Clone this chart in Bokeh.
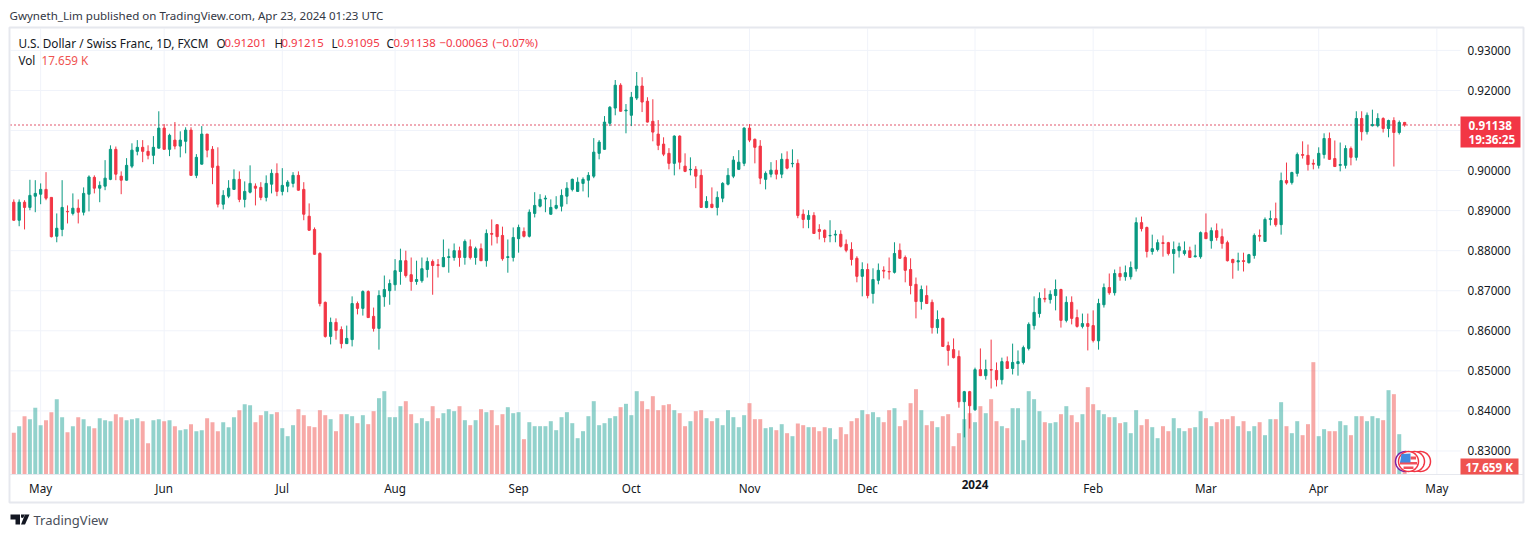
import math
from bokeh.plotting import figure
from bokeh.models import (Range1d, LinearAxis, FixedTicker, Label, PolyAnnotation,
                          ColumnDataSource, NumeralTickFormatter)
from bokeh.embed import file_html
from bokeh.resources import INLINE

# ---------- data ----------
open_ = [
.8921,.8876,.8921,.8908,.8936,.8941,.8953,.8933,.8836,.8853,
.8898,.8893,.8906,.8896,.8941,.8983,.8956,.8961,.8978,.9053,
.8986,.8976,.9011,.9048,.9058,.9048,.9038,.9056,.9106,.9053,
.9076,.9061,.9073,.9101,.8988,.9016,.9091,.9053,.9011,.8916,
.8936,.8953,.8978,.8928,.8946,.8961,.8958,.8933,.8966,.8993,
.8948,.8961,.8968,.8988,.8953,.8886,.8853,.8793,.8671,.8586,
.8621,.8603,.8568,.8578,.8668,.8656,.8698,.8636,.8606,.8685,
.8700,.8715,.8748,.8775,.8740,.8723,.8725,.8753,.8773,.8765,
.8760,.8783,.8783,.8800,.8783,.8810,.8783,.8805,.8775,.8843,
.8865,.8838,.8783,.8783,.8830,.8848,.8836,.8893,.8911,.8929,
.8891,.8906,.8911,.8936,.8953,.8948,.8968,.8976,.8986,.9043,
.9053,.9118,.9156,.9213,.9149,.9138,.9181,.9211,.9173,.9123,
.9091,.9066,.9043,.9018,.9086,.9011,.9002,.9003,.8988,.8908,
.8916,.8908,.8931,.8966,.8986,.9003,.9018,.9106,.9078,.9061,
.8978,.8991,.9001,.8991,.9028,.9017,.9018,.8891,.8878,.8888,
.8853,.8851,.8837,.8839,.8841,.8816,.8803,.8781,.8736,.8753,
.8693,.8726,.8751,.8748,.8746,.8801,.8783,.8753,.8716,.8673,
.8688,.8671,.8608,.8631,.8563,.8553,.8536,.8423,.8448,.8403,
.8503,.8488,.8503,.8501,.8478,.8523,.8506,.8518,.8521,.8556,
.8613,.8643,.8681,.8678,.8688,.8703,.8626,.8671,.8633,.8611,
.8618,.8613,.8575,.8665,.8708,.8695,.8743,.8735,.8735,.8755,
.8870,.8858,.8798,.8803,.8820,.8820,.8793,.8800,.8793,.8800,
.8785,.8785,.8845,.8825,.8850,.8835,.8820,.8778,.8772,.8775,
.8770,.8788,.8838,.8823,.8878,.8880,.8865,.8975,.8970,.8993,
.9040,.9038,.9018,.9013,.9040,.9080,.9030,.9013,.9013,.9055,
.9033,.9130,.9097,.9112,.9112,.9130,.9105,.9125,.9095,.91201]
high = [
.8928,.8928,.8926,.8977,.8976,.8968,.8996,.8933,.8893,.8976,
.8913,.8943,.8928,.8958,.8988,.8988,.8973,.9026,.9063,.9060,
.8998,.9031,.9068,.9076,.9076,.9063,.9086,.9148,.9116,.9092,
.9121,.9098,.9108,.9108,.9041,.9111,.9091,.9061,.9058,.8951,
.8976,.9003,.8998,.8973,.9013,.8968,.8971,.8988,.9003,.9018,
.9006,.8976,.8996,.8998,.8971,.8918,.8858,.8796,.8673,.8633,
.8631,.8611,.8613,.8686,.8673,.8701,.8701,.8658,.8701,.8738,
.8728,.8779,.8805,.8800,.8783,.8775,.8783,.8783,.8778,.8779,
.8828,.8805,.8818,.8810,.8828,.8828,.8810,.8818,.8853,.8878,
.8865,.8860,.8828,.8858,.8865,.8858,.8903,.8946,.8941,.8938,
.8928,.8936,.8953,.8971,.8980,.8983,.8983,.8996,.9081,.9076,
.9136,.9161,.9226,.9218,.9166,.9196,.9246,.9233,.9183,.9178,
.9126,.9083,.9056,.9088,.9088,.9043,.9033,.9011,.9003,.8936,
.8958,.8948,.8971,.9006,.9036,.9051,.9108,.9116,.9080,.9076,
.8998,.9021,.9026,.9043,.9048,.9053,.9028,.8903,.8901,.8896,
.8866,.8853,.8876,.8851,.8851,.8828,.8821,.8786,.8771,.8768,
.8756,.8768,.8761,.8783,.8821,.8818,.8788,.8781,.8733,.8713,
.8713,.8678,.8651,.8633,.8573,.8581,.8551,.8450,.8450,.8508,
.8556,.8528,.8578,.8521,.8533,.8536,.8568,.8551,.8563,.8621,
.8686,.8696,.8706,.8701,.8728,.8705,.8686,.8686,.8653,.8643,
.8643,.8651,.8680,.8718,.8743,.8753,.8760,.8763,.8773,.8883,
.8885,.8860,.8840,.8828,.8838,.8822,.8823,.8820,.8823,.8810,
.8815,.8848,.8893,.8858,.8868,.8855,.8825,.8780,.8795,.8795,
.8792,.8843,.8853,.8883,.8900,.8920,.8995,.9020,.8997,.9045,
.9073,.9065,.9028,.9058,.9093,.9095,.9075,.9070,.9063,.9060,
.9148,.9148,.9145,.9152,.9143,.9133,.9127,.9133,.9125,.91215]
low = [
.8875,.8861,.8853,.8901,.8896,.8916,.8926,.8833,.8821,.8836,
.8868,.8888,.8868,.8888,.8898,.8943,.8921,.8951,.8976,.8976,
.8941,.8975,.9006,.9038,.9021,.9028,.9016,.9055,.9052,.9036,
.9053,.9033,.9043,.8987,.8981,.9015,.9033,.8966,.8908,.8903,
.8931,.8952,.8921,.8908,.8943,.8913,.8926,.8923,.8943,.8936,
.8938,.8946,.8958,.8950,.8876,.8850,.8790,.8661,.8583,.8566,
.8578,.8556,.8567,.8561,.8641,.8638,.8632,.8598,.8553,.8660,
.8665,.8700,.8715,.8733,.8700,.8715,.8720,.8733,.8690,.8733,
.8759,.8745,.8775,.8760,.8765,.8778,.8765,.8774,.8760,.8813,
.8818,.8775,.8745,.8773,.8795,.8833,.8833,.8883,.8908,.8896,
.8890,.8903,.8898,.8916,.8948,.8947,.8948,.8933,.8981,.9028,
.9052,.9111,.9138,.9147,.9093,.9111,.9176,.9146,.9120,.9073,
.9051,.9036,.9003,.8988,.9003,.8996,.8988,.8956,.8907,.8906,
.8906,.8888,.8921,.8963,.8981,.9002,.9011,.9071,.9018,.8966,
.8953,.8983,.8978,.8981,.9003,.9008,.8881,.8856,.8856,.8842,
.8828,.8821,.8821,.8821,.8808,.8796,.8763,.8721,.8686,.8681,
.8668,.8716,.8731,.8728,.8743,.8780,.8721,.8691,.8631,.8653,
.8667,.8593,.8593,.8560,.8513,.8531,.8408,.8334,.8356,.8400,
.8487,.8478,.8456,.8461,.8466,.8505,.8491,.8488,.8516,.8551,
.8603,.8633,.8671,.8668,.8651,.8608,.8621,.8616,.8608,.8606,
.8551,.8571,.8553,.8658,.8690,.8688,.8725,.8725,.8728,.8748,
.8848,.8783,.8790,.8798,.8785,.8788,.8743,.8783,.8788,.8782,
.8783,.8780,.8829,.8805,.8825,.8805,.8773,.8730,.8750,.8748,
.8768,.8780,.8823,.8822,.8863,.8860,.8840,.8965,.8965,.8985,
.9030,.9000,.9003,.9005,.9030,.9027,.9009,.8998,.9005,.9013,
.9025,.9075,.9090,.9110,.9108,.9095,.9083,.9010,.9090,.91095]
close = [
.8876,.8921,.8908,.8938,.8943,.8953,.8931,.8835,.8856,.8908,
.8897,.8906,.8896,.8943,.8984,.8956,.8963,.8981,.9053,.8991,
.8976,.9013,.9051,.9058,.9048,.9038,.9058,.9106,.9053,.9088,
.9061,.9076,.9101,.8988,.9033,.9091,.9051,.9008,.8916,.8938,
.8956,.8978,.8928,.8948,.8968,.8956,.8933,.8968,.8993,.8948,
.8963,.8971,.8988,.8951,.8891,.8851,.8791,.8668,.8586,.8621,
.8601,.8568,.8581,.8668,.8656,.8698,.8633,.8606,.8688,.8703,
.8718,.8750,.8775,.8738,.8723,.8728,.8755,.8773,.8763,.8763,
.8783,.8785,.8800,.8783,.8823,.8783,.8805,.8775,.8843,.8841,
.8835,.8780,.8785,.8833,.8858,.8836,.8896,.8913,.8928,.8931,
.8908,.8913,.8938,.8956,.8978,.8971,.8978,.8988,.9046,.9071,
.9121,.9158,.9213,.9148,.9151,.9183,.9211,.9171,.9121,.9096,
.9063,.9041,.9018,.9086,.9021,.8998,.9003,.8986,.8908,.8923,
.8908,.8933,.8968,.8988,.9026,.9021,.9106,.9076,.9058,.8981,
.8993,.9001,.8991,.9028,.9006,.9018,.8888,.8878,.8888,.8843,
.8848,.8833,.8838,.8841,.8811,.8801,.8778,.8736,.8753,.8688,
.8728,.8751,.8749,.8747,.8793,.8781,.8751,.8713,.8673,.8703,
.8668,.8608,.8628,.8561,.8551,.8533,.8423,.8448,.8413,.8503,
.8488,.8503,.8502,.8478,.8523,.8506,.8521,.8523,.8558,.8616,
.8646,.8681,.8679,.8691,.8703,.8626,.8671,.8631,.8611,.8618,
.8611,.8576,.8668,.8708,.8695,.8743,.8735,.8745,.8758,.8870,
.8855,.8798,.8805,.8820,.8818,.8793,.8803,.8810,.8800,.8783,
.8787,.8845,.8830,.8850,.8833,.8818,.8775,.8770,.8775,.8773,
.8790,.8838,.8836,.8878,.8880,.8865,.8975,.8969,.8995,.9040,
.9038,.9015,.9016,.9043,.9080,.9028,.9010,.9015,.9055,.9033,
.9130,.9097,.9138,.9115,.9130,.9105,.9125,.9095,.9120,.91138]
volume_k = [
91.7,106.3,128.3,121.7,146.7,108.5,119.5,137.1,165.7,126.1,
93.1,106.3,126.1,121.7,106.3,101.9,123.9,119.5,117.3,132.7,
126.1,119.5,121.7,123.9,117.3,68.9,119.5,121.7,117.3,119.5,
106.3,97.5,99.7,110.7,95.3,97.5,123.9,115.1,95.3,115.1,
104.1,126.1,141.5,154.7,152.5,115.1,130.5,139.3,132.7,137.1,
101.9,84.3,108.5,143.7,130.5,106.3,104.1,141.5,130.5,121.7,
95.3,132.7,132.7,128.3,112.9,130.5,110.7,139.3,167.9,183.3,
126.1,126.1,150.3,161.3,132.7,112.9,123.9,117.3,150.3,123.9,
134.9,143.7,139.3,150.3,119.5,108.5,119.5,143.7,137.1,141.5,
108.5,132.7,148.1,134.9,137.1,77.7,115.1,106.3,106.3,106.3,
117.3,97.5,126.1,137.1,112.9,79.9,95.3,128.3,161.3,108.5,
112.9,123.9,128.3,148.1,155.5,130.5,183.3,161.3,143.7,172.3,
141.5,152.5,154.7,141.5,134.9,106.3,117.3,139.3,141.5,123.9,
117.3,123.9,108.5,141.5,126.1,104.1,130.5,156.9,121.7,121.7,
101.9,104.1,97.5,110.7,90.9,84.3,112.2,108.5,104.1,104.1,
95.3,104.1,101.9,77.7,104.1,88.7,117.3,123.9,141.5,132.7,
137.1,126.1,115.1,141.5,145.9,106.3,119.5,156.9,187.7,141.5,
108.5,117.3,104.1,128.3,132.7,62.3,90.9,121.7,134.9,115.1,
150.3,134.9,165.7,117.3,106.3,101.9,145.9,145.9,75.5,183.3,
165.7,139.3,115.1,112.9,115.1,132.7,150.3,130.5,115.1,132.7,
192.1,154.7,141.5,132.7,126.1,126.1,112.9,115.1,90.9,141.5,
108.5,121.7,104.1,79.9,106.3,95.3,123.9,101.9,95.3,101.9,
104.1,139.3,123.9,106.3,115.1,121.7,121.7,128.3,106.3,117.3,
95.3,106.3,115.1,86.5,121.7,121.7,159.1,106.3,90.9,117.3,
86.5,110.7,247.1,84.3,99.7,95.3,95.3,117.3,108.5,86.5,
128.3,128.3,117.3,128.3,123.9,119.5,185.5,176.7,88.7,17.659]

month_ticks = [5, 28, 50, 71, 94, 115, 137, 159, 201, 222, 243, 265]
month_labels = ["May", "Jun", "Jul", "Aug", "Sep", "Oct", "Nov", "Dec", "Feb", "Mar", "Apr", "May"]
year_ticks = [179]
year_labels = ["2024"]
price_ticks = [0.83, 0.84, 0.85, 0.86, 0.87, 0.88, 0.89, 0.90, 0.91, 0.92, 0.93]
last_price = 0.91138

# ---------- style / geometry ----------
UP, DOWN = "#089981", "#f23645"
VUP, VDOWN = "#26a69a", "#ef5350"
FONT = "Noto Sans"
FS = "11.7px"
INK = "#131722"
GRID = "#f0f3fa"
EDGE = "#e6e8ee"

W, H = 1530, 530
PL, PR, PB = 10, 1460, 474            # pane edges in page pixels; pane top is 28
PT = 28

def X(px):
    return (px - 13.3) / 5.37

def Y(py):
    return 0.91 + (130.0 - py) / 4006

p = figure(width=W, height=H, output_backend="svg", toolbar_location=None,
           x_axis_type=None, y_axis_type=None,
           x_range=Range1d(X(0), X(W)), y_range=Range1d(Y(H), Y(0)),
           min_border_left=0, min_border_right=0, min_border_top=0, min_border_bottom=0)
p.outline_line_color = None
p.background_fill_color = "white"
p.border_fill_color = "white"
p.grid.visible = False
p.extra_y_ranges = {"vol": Range1d(-(H - PB) * 2.2, PB * 2.2)}

# axes
yax = LinearAxis(fixed_location=X(PR), ticker=FixedTicker(ticks=price_ticks),
                 formatter=NumeralTickFormatter(format="0.00000"),
                 axis_line_color=None, major_tick_line_color=None, minor_tick_line_color=None,
                 major_label_text_font=FONT, major_label_text_font_size=FS,
                 major_label_text_color=INK, major_label_standoff=1)
p.add_layout(yax, "right")
xax = LinearAxis(fixed_location=Y(PB), ticker=FixedTicker(ticks=month_ticks),
                 major_label_overrides=dict(zip(month_ticks, month_labels)),
                 axis_line_color=None, major_tick_line_color=None, minor_tick_line_color=None,
                 major_label_text_font=FONT, major_label_text_font_size=FS,
                 major_label_text_color=INK, major_label_standoff=-1)
p.add_layout(xax, "below")
yrax = LinearAxis(fixed_location=Y(PB), ticker=FixedTicker(ticks=year_ticks),
                  major_label_overrides=dict(zip(year_ticks, year_labels)),
                  axis_line_color=None, major_tick_line_color=None, minor_tick_line_color=None,
                  major_label_text_font=FONT, major_label_text_font_size=FS,
                  major_label_text_font_style="bold",
                  major_label_text_color=INK, major_label_standoff=-1)
p.add_layout(yrax, "below")

# grid, confined to the pane
grid_x = month_ticks + year_ticks
p.segment(x0=grid_x, x1=grid_x, y0=[Y(PB)] * len(grid_x), y1=[Y(PT)] * len(grid_x),
          line_color=GRID, line_width=1)
p.segment(x0=[X(PL)] * len(price_ticks), x1=[X(PR)] * len(price_ticks),
          y0=price_ticks, y1=price_ticks, line_color=GRID, line_width=1)

# marks
idx = list(range(len(close)))
up = [c >= o for o, c in zip(open_, close)]
src = ColumnDataSource(dict(
    i=idx, o=open_, h=high, l=low, c=close, v=volume_k,
    top=[max(a, b) for a, b in zip(open_, close)],
    bot=[min(a, b) for a, b in zip(open_, close)],
    col=[UP if u else DOWN for u in up],
    vcol=[VUP if u else VDOWN for u in up]))

p.vbar(x="i", top="v", bottom=0, width=0.74, color="vcol", alpha=0.5, line_color=None,
       source=src, y_range_name="vol")
p.segment(x0=[X(PL)], x1=[X(PR)], y0=[last_price], y1=[last_price], line_color="#d81e3c",
          line_dash="1 3", line_width=1.4)
p.segment(x0="i", y0="l", x1="i", y1="h", color="col", line_width=1, source=src)
p.vbar(x="i", top="top", bottom="bot", width=0.42, fill_color="col", line_color="col",
       line_width=1, source=src)

# decorations drawn in page pixels
def poly(pts, fill=None, line=None, lw=1):
    p.add_layout(PolyAnnotation(
        xs=[X(a) for a, _ in pts], ys=[Y(b) for _, b in pts],
        fill_color=fill, fill_alpha=1 if fill else 0,
        line_color=line, line_alpha=1 if line else 0, line_width=lw))

def rect(a, b, c, d, fill=None, line=None, lw=1):
    poly([(a, b), (c, b), (c, d), (a, d)], fill, line, lw)

def circle(cx, cy, r, fill, line, lw=1.5):
    poly([(cx + r * math.cos(t / 40 * 2 * math.pi), cy + r * math.sin(t / 40 * 2 * math.pi))
          for t in range(40)], fill, line, lw)

def text(px, py, s, color=INK, size=FS, align="left", style="normal"):
    p.add_layout(Label(x=X(px), y=Y(py), text=s, text_color=color, text_font=FONT,
                       text_font_size=size, text_align=align, text_baseline="middle",
                       text_font_style=style))

rect(9, 27, 1523, 502, None, EDGE, 2)
rect(9, PB - 0.5, 1523, PB + 0.5, EDGE)

text(9, 15, "Gwyneth_Lim published on TradingView.com, Apr 23, 2024 01:23 UTC", "#333844", "11.55px")
text(18, 42, "U.S. Dollar / Swiss Franc, 1D, FXCM", INK, "11.8px")
for px, s in [(216, "O"), (274, "H"), (331, "L"), (386, "C")]:
    text(px, 42, s, INK)
for px, s in [(224, "0.91201"), (281, "0.91215"), (337, "0.91095"), (393, "0.91138"),
              (439, "\u22120.00063"), (492, "(\u22120.07%)")]:
    text(px, 42, s, DOWN, "11.4px")
text(18, 59, "Vol", INK)
text(41, 59, "17.659 K", VDOWN)

rect(1460, 116, 1520, 147, DOWN)
text(1468, 125, "0.91138", "white", FS, "left", "bold")
text(1468, 138, "19:36:25", "white", FS, "left", "bold")
rect(1460, 458, 1518, 474, VDOWN)
text(1465, 466, "17.659 K", "white", FS, "left", "bold")

# last-bar event badges
circle(1420, 461, 10, "white", DOWN)
circle(1414, 461, 10, "white", DOWN)
circle(1405, 461, 10, "white", "#7b1fa2")
circle(1408, 461, 10, "white", DOWN)
cx, cy, r = 1408, 461, 9
for ya, yb, xa in [(456, 459, 1410), (461.5, 464, cx - 8.6), (466, 468.5, cx - 6)]:
    half = math.sqrt(max(r * r - (max(abs(ya - cy), abs(yb - cy))) ** 2, 0))
    rect(max(xa, cx - half), ya, cx + half, yb, "#f0505a")
poly([(1401, 453.5), (1410, 453), (1410, 462), (1399.5, 462)], "#3f8ae0")

# TradingView logo and name
poly([(10, 514), (19.5, 514), (19.5, 524), (15, 524), (15, 519), (10, 519)], INK)
poly([(20.5, 514), (24.5, 514), (22.5, 517.5), (20.5, 517)], INK)
poly([(24.5, 514), (29, 514), (24.5, 524), (20.5, 524)], INK)
text(33, 519, "TradingView", "#4a4f5a", "13px")

open("out.html", "w").write(file_html(p, INLINE))
